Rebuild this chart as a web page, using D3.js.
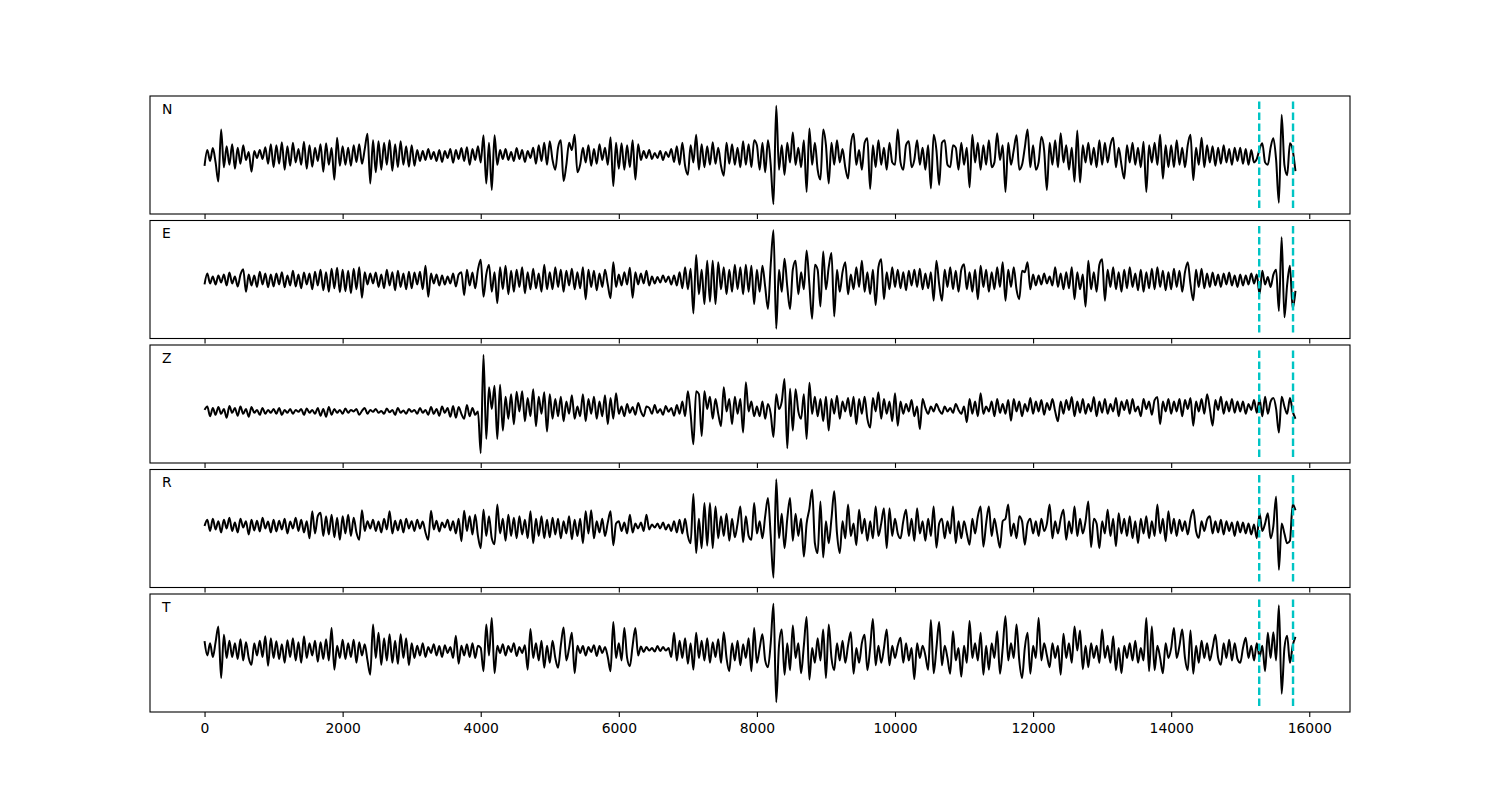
<!DOCTYPE html>
<html>
<head>
<meta charset="utf-8">
<script src="https://cdn.jsdelivr.net/npm/d3@7"></script>
<style>
  body { margin: 0; background: #fff; }
  svg text { font-family: "DejaVu Sans", sans-serif; fill: #000; }
</style>
</head>
<body>
<div id="chart"></div>
<script>
// one sample every 40 time units, first sample at t = 0
var sampleStep = 40;
var components = ["N", "E", "Z", "R", "T"];
var pickTimes = [15275, 15765];
var xTicks = [0, 2000, 4000, 6000, 8000, 10000, 12000, 14000, 16000];

var traceN = [
  -22,10,-12,14,-15,-54,52,-25,18,-20,22,-28,15,-18,20,-10,6,-34,8,-6,10,-8,16,-18,22,
  -25,20,-18,26,-30,18,-22,25,-15,12,-20,27,-28,20,-24,15,-12,22,-34,24,-20,14,-50,35,-22,
  18,-20,15,-22,20,-14,22,-18,12,43,-58,30,-35,28,-30,25,-20,30,-32,22,-25,28,-20,18,-24,
  20,-22,10,-12,8,-10,12,-8,6,-12,10,-14,8,-6,12,-16,10,-8,14,-12,16,-20,12,-10,18,
  -15,40,-58,25,-71,40,-20,10,-8,12,-10,6,-12,14,-8,10,-14,8,-6,15,-18,20,-12,25,-20,
  28,-10,-30,15,30,-53,-20,25,10,41,-35,-20,15,-15,20,-22,12,-18,22,-10,15,-20,36,-63,25,
  -28,24,-30,20,-25,30,-50,22,-10,8,-6,10,-8,4,-6,8,-10,6,-4,12,-14,18,-20,25,-22,
  -40,20,-15,41,-30,22,-25,18,-20,26,-18,15,-22,-42,25,-18,22,-20,15,-25,28,-20,22,-25,30,
  20,-30,25,-35,30,-20,-100,100,-30,20,-40,25,-15,46,-20,15,-25,30,-75,54,-20,25,-30,-50,52,
  20,-58,25,-20,30,-15,12,-25,-48,20,43,-20,10,-30,25,34,-69,20,-25,30,-20,15,-30,25,-15,
  -20,52,-15,-30,20,28,-25,-10,30,-20,15,-30,20,-68,41,10,-61,25,30,-20,-25,20,15,-30,25,
  -20,15,-66,41,-15,25,-30,20,-20,30,-25,-15,44,-10,20,-75,25,-20,10,40,-30,-20,15,52,-25,
  20,-30,-15,37,10,-71,25,-20,30,-25,44,-15,20,-30,15,-54,50,-56,20,-15,25,-20,15,-25,30,
  -20,25,-15,20,35,-25,15,-20,-48,20,-15,25,-20,15,-25,27,-75,20,-15,25,-20,41,-48,20,-25,
  20,-25,30,-20,15,-25,20,41,-51,15,-20,35,-25,20,-15,18,-22,15,-18,20,-15,12,-20,15,-12,
  15,-18,12,-20,10,-15,-8,12,24,-15,-20,15,34,-10,-97,82,-20,-41,24,10,-33
];

var traceE = [
  -10,12,-8,6,-10,8,-6,10,-12,14,-8,6,-14,10,21,-25,10,-12,8,-15,16,-10,12,-16,10,
  -14,12,-10,15,-16,8,-12,18,-14,10,-18,14,-10,12,-20,16,-12,20,-22,15,-25,22,-18,24,-26,
  20,-24,18,-28,22,-20,25,-37,15,-10,12,-8,14,-15,10,-18,20,-12,15,-22,18,-15,12,-20,16,
  -18,14,-10,16,-20,28,-35,12,-8,10,-12,8,-10,6,-8,12,-14,10,15,-32,20,-12,14,-18,20,
  40,-35,10,30,-25,15,-48,25,-20,28,-30,18,-25,20,-15,25,-28,15,-20,22,-18,12,-25,30,-20,
  15,-20,25,-15,20,-25,18,-12,22,-20,15,-18,25,-40,20,-15,18,-22,12,-15,20,-10,-38,35,-15,
  10,-12,15,-10,24,-37,15,-10,12,-8,18,-12,6,-8,5,-6,8,-5,6,-10,8,-12,15,-18,25,
  -20,22,-69,50,-30,20,-50,38,-45,38,-50,35,-20,25,-30,20,-25,30,-20,25,-30,30,-25,28,-50,
  20,-25,28,-15,-60,30,100,-100,20,-25,42,-15,-60,20,38,-30,15,-20,59,-10,-80,30,20,-55,57,
  -20,25,54,-75,20,-25,15,35,-30,10,-20,25,-15,38,-25,15,-30,20,-52,25,41,-40,15,-20,25,
  -15,20,-18,15,-22,18,-12,20,-15,22,-20,12,-18,15,-43,38,-10,-43,20,-15,25,-20,18,-25,20,
  31,-20,15,-25,20,-40,28,-15,20,-25,15,-20,25,-15,35,-43,20,-15,25,-20,-40,18,15,35,-20,
  10,-12,8,-10,12,-8,6,-12,25,-15,12,-20,15,-18,25,-40,15,-20,10,-55,38,-20,15,-25,30,
  41,-43,20,-15,25,-20,15,-25,20,-18,25,-15,12,-22,20,-25,15,-18,22,-20,25,-15,18,-22,15,
  -20,22,-15,18,-25,15,35,-10,-42,20,-15,22,-18,12,-15,14,-12,10,-15,12,-10,14,-12,8,-15,
  10,-12,8,-10,12,-8,10,-30,18,-10,5,-15,10,20,-64,86,-77,-10,28,-59,-23
];

var traceZ = [
  -12,-5,-25,-8,-22,-6,-20,-10,-28,-4,-18,-8,-24,-5,-20,-10,-26,-6,-18,-12,-22,-8,-20,-12,-18,
  -10,-20,-8,-22,-12,-18,-10,-20,-12,-16,-10,-22,-9,-18,-12,-20,-8,-24,-10,-26,-6,-22,-10,-18,-12,
  -20,-9,-18,-12,-15,-10,-22,-14,-8,-20,-12,-16,-10,-18,-14,-20,-9,-17,-12,-22,-8,-18,-13,-20,-10,
  -16,-12,-20,-8,-18,-12,-22,-6,-20,-10,-24,-5,-18,-8,-26,-4,-28,-6,-20,-30,-2,-25,-8,-22,-15,
  -100,100,-71,34,-10,37,-71,39,-54,15,-30,20,-41,25,-15,26,-35,12,-25,30,-45,15,-20,24,-56,
  20,-30,10,-25,15,-35,5,-20,18,-30,-5,-25,20,-35,10,-20,15,-30,5,-25,18,-41,12,-30,22,
  -20,-5,-25,0,-18,-6,-22,2,-15,-25,-5,-8,-20,-2,-18,-10,-22,-4,-16,-8,-24,-2,-20,5,-25,
  26,-20,-82,26,20,-65,26,-10,15,-30,10,-20,-45,34,-15,10,-41,15,-20,10,-58,44,-15,5,-25,
  -5,-25,5,-30,0,-20,-67,20,-10,5,51,-90,31,-54,30,-15,-30,20,-71,43,-20,15,-25,10,-35,
  15,-54,10,-20,17,-30,5,-15,12,-25,15,-41,10,-20,15,-30,-48,12,-15,24,-30,10,-20,5,-35,
  22,-44,5,-20,0,-15,8,-25,-5,-51,10,-8,-20,-5,-15,0,-12,-20,-5,-15,-8,-18,0,-12,-20,
  -5,-37,10,-20,5,-25,22,-20,-5,-15,5,-25,10,-18,0,-20,8,-34,10,-15,5,-25,0,-15,12,
  -20,5,-15,8,-22,2,-12,10,-15,-35,5,-20,8,-12,14,-25,5,-18,10,-20,0,-15,14,-25,5,
  -18,10,-20,0,-15,12,-25,5,-12,8,-20,10,-15,-5,-25,10,-10,5,-22,8,14,-41,5,-15,10,
  -20,5,-15,10,-25,8,-10,12,-44,5,-15,10,-20,20,-10,-44,8,-12,15,-20,5,-15,10,-18,5,
  -15,5,-20,0,-12,8,-18,10,-25,15,-20,5,12,-10,-58,15,-5,-20,12,-15,-30
];

var traceR = [
  5,18,-5,20,-2,15,-8,18,0,22,-5,12,-8,20,2,15,-12,18,-4,16,-6,22,0,14,-8,
  18,-6,16,-2,20,-10,14,0,22,-5,18,-8,15,-20,35,-10,25,32,-15,25,-12,28,-18,22,-23,
  25,-10,28,-15,22,-8,-23,37,-5,15,0,18,-5,14,-8,20,-2,35,-10,16,-4,18,-8,20,0,
  15,-5,18,0,14,-8,-23,36,-2,16,-6,12,2,18,-4,15,-10,20,-26,36,-5,25,-12,28,-15,
  -40,38,-15,25,-20,-32,49,-10,20,-25,28,-15,22,-20,25,-12,18,-20,35,-30,20,-15,25,-20,18,
  -18,22,-12,20,-20,15,-10,25,-22,18,-15,20,-30,35,-10,37,-20,15,-8,20,-15,12,35,-34,10,
  15,-5,12,-10,28,-8,10,0,12,-5,28,-2,8,2,10,0,12,-2,8,-5,15,-8,18,-10,20,
  -15,-30,70,-50,20,-40,52,-35,52,-40,45,-20,25,-15,30,-25,20,-18,10,45,-28,25,-15,-23,52,
  -10,15,-20,25,62,-15,-100,100,-20,30,-40,20,62,-25,30,-15,20,-57,10,40,79,-30,-50,55,-59,
  15,-30,20,76,-10,-50,15,-20,49,-15,10,-34,38,-10,20,-25,15,-20,45,-15,10,41,-40,41,-15,
  20,-10,-20,15,38,-15,20,-25,41,-10,15,-25,20,-15,45,-39,10,20,-20,15,-10,45,-30,15,-20,
  15,-10,-33,20,-10,25,45,-37,10,45,-15,20,-10,-39,15,20,49,-15,10,-20,25,15,-33,10,20,
  -10,15,-15,20,-5,10,49,-20,15,-10,20,38,-23,15,-10,45,-15,20,-10,15,55,-38,20,10,-40,
  15,-10,38,-15,20,-36,31,-10,20,-15,25,-20,15,-30,20,-10,25,-20,15,-15,49,-10,20,-26,35,
  -10,20,-15,18,-5,15,-12,20,38,-5,-19,15,-5,18,25,-10,15,-8,18,-12,15,-5,12,-15,14,
  -8,12,-10,10,-12,8,-20,31,-5,10,31,-20,5,65,-84,10,-10,-30,-25,50,37
];

var traceT = [
  24,-5,20,-8,22,54,-51,37,-10,25,-8,20,-12,28,-15,22,-10,-24,20,-5,25,-8,34,-26,30,
  -10,24,-12,18,-20,26,-8,30,-15,22,-20,34,-10,20,-5,25,-18,22,-12,28,-15,51,-34,15,-10,
  27,-12,20,-8,27,-20,22,-5,18,-15,-44,58,-10,41,-24,30,-15,38,-20,25,-22,38,-10,30,-25,
  20,-10,15,-5,20,-8,12,0,18,-5,14,-8,16,0,12,-10,35,-22,15,-5,18,-8,20,-10,15,
  10,-37,58,-5,71,-41,15,0,18,-5,14,2,20,-6,12,0,16,-34,49,-10,20,-15,25,-30,15,
  -20,25,-10,-30,15,52,-15,10,41,-41,15,0,14,-5,12,2,16,-6,14,0,12,-8,-37,63,-10,
  20,-15,51,-10,-27,15,51,-5,13,2,12,5,10,3,14,4,12,5,10,-8,41,-15,25,-10,30,
  -22,20,-34,41,-10,25,-15,30,-20,22,-8,28,-20,42,-10,-37,20,-15,25,-25,18,-10,30,-37,51,
  -20,10,38,-15,-29,20,100,-100,15,48,-44,20,-35,56,-10,20,-41,15,73,-54,10,-20,30,-15,48,
  -51,58,-10,-35,20,-15,25,-20,15,42,-42,10,-20,20,37,-35,10,69,-25,15,-20,10,48,-25,15,
  -10,15,31,-20,20,-15,10,-53,20,-10,15,-5,-34,67,-41,10,63,-25,15,-10,-42,44,-15,10,-48,
  15,-20,65,-10,20,-15,41,-44,15,-34,20,-10,44,-42,10,75,-15,20,-10,58,-15,-51,10,41,-42,
  15,-10,71,-15,20,-5,-29,20,-10,15,-44,39,-10,20,-20,54,5,46,-33,15,-29,20,-10,15,-20,
  48,-10,15,-20,34,-35,10,-41,15,-10,20,-15,25,-20,10,-15,71,-37,54,-35,15,-10,-41,20,-10,
  10,51,-10,15,48,-10,-35,46,-42,15,-20,25,-10,20,-15,10,37,-10,-24,20,-10,27,-15,20,-12,
  -20,10,31,-10,15,-15,20,-8,15,-37,41,-10,42,-15,97,-83,10,35,-20,15,33
];

var traces = [traceN, traceE, traceZ, traceR, traceT];

var width = 1500,
    height = 800,
    margin = {top: 96, right: 150, bottom: 88, left: 150},
    panelGap = 6.5,
    pickInset = 5.4,
    fontSize = 13.9;

var plotW = width - margin.left - margin.right,
    panelH = (height - margin.top - margin.bottom - panelGap * (components.length - 1)) / components.length;

var svg = d3.select("#chart").append("svg")
    .attr("width", width)
    .attr("height", height);

var tMax = d3.max(traces, function (t) { return (t.length - 1) * sampleStep; });
var xPad = tMax * 0.05;

var x = d3.scaleLinear()
    .domain([-xPad, tMax + xPad])
    .range([margin.left, margin.left + plotW]);

function drawPanel(name, data, i) {
    var top = margin.top + i * (panelH + panelGap);
    var ext = d3.extent(data),
        span = ext[1] - ext[0];

    var y = d3.scaleLinear()
        .domain([ext[0] - 0.1 * span, ext[1] + 0.1 * span])
        .range([top + panelH, top]);

    var g = svg.append("g").attr("class", "panel");

    var line = d3.line()
        .x(function (d, k) { return x(k * sampleStep); })
        .y(function (d) { return y(d); })
        .curve(d3.curveMonotoneX);

    g.append("path")
        .datum(data)
        .attr("d", line)
        .attr("fill", "none")
        .attr("stroke", "#000")
        .attr("stroke-width", 2)
        .attr("stroke-linejoin", "round");

    g.selectAll("line.pick")
        .data(pickTimes)
        .enter().append("line")
        .attr("class", "pick")
        .attr("x1", function (d) { return x(d); })
        .attr("x2", function (d) { return x(d); })
        .attr("y1", top + pickInset)
        .attr("y2", top + panelH - pickInset)
        .attr("stroke", "#00c4c4")
        .attr("stroke-width", 2.4)
        .attr("stroke-dasharray", "7.7,3.3");

    // frame
    g.append("rect")
        .attr("x", margin.left)
        .attr("y", top)
        .attr("width", plotW)
        .attr("height", panelH)
        .attr("fill", "none")
        .attr("stroke", "#000")
        .attr("stroke-width", 1.1);

    var axis = d3.axisBottom(x)
        .tickValues(xTicks)
        .tickSize(4.9)
        .tickPadding(4.9)
        .tickFormat(i === components.length - 1 ? d3.format("d") : "");

    var ax = g.append("g")
        .attr("transform", "translate(0," + (top + panelH) + ")")
        .call(axis);
    ax.select(".domain").remove();
    ax.selectAll(".tick line").attr("stroke", "#000").attr("stroke-width", 1.1);
    ax.selectAll(".tick text")
        .attr("font-size", fontSize)
        .attr("font-family", "DejaVu Sans, sans-serif")
        .attr("dy", "0.8em");

    g.append("text")
        .attr("x", margin.left + 12)
        .attr("y", top + 17.5)
        .attr("font-size", fontSize)
        .text(name);
}

components.forEach(function (name, i) {
    drawPanel(name, traces[i], i);
});
</script>
</body>
</html>
